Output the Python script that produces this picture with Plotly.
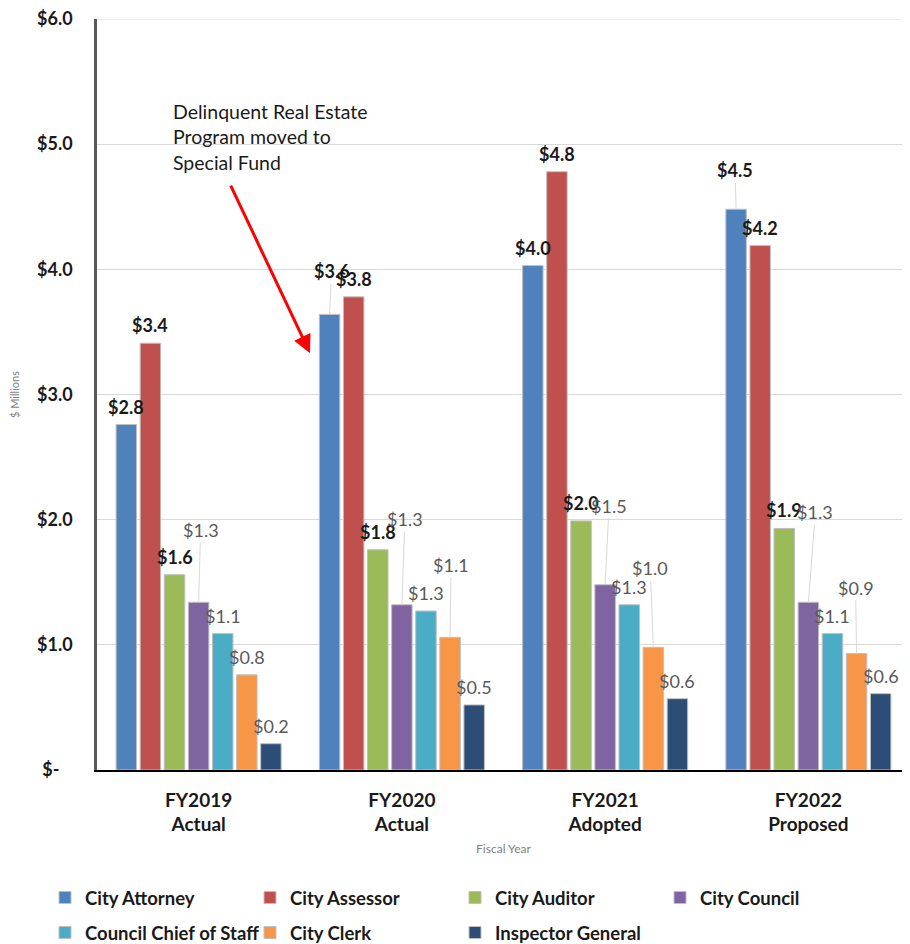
import plotly.graph_objects as go

# ---------------- data ----------------
years = ["FY2019<br>Actual", "FY2020<br>Actual", "FY2021<br>Adopted", "FY2022<br>Proposed"]
series_names = ["City Attorney", "City Assessor", "City Auditor", "City Council",
                "Council Chief of Staff", "City Clerk", "Inspector General"]
city_attorney = [2.76, 3.64, 4.03, 4.48]
city_assessor = [3.41, 3.78, 4.78, 4.19]
city_auditor = [1.56, 1.76, 1.99, 1.93]
city_council = [1.34, 1.32, 1.48, 1.34]
council_chief_of_staff = [1.09, 1.27, 1.32, 1.09]
city_clerk = [0.76, 1.06, 0.98, 0.93]
inspector_general = [0.21, 0.52, 0.57, 0.61]
y_tick_values = [0, 1, 2, 3, 4, 5, 6]
y_tick_labels = ["$-\u00a0\u00a0\u00a0", "$1.0", "$2.0", "$3.0", "$4.0", "$5.0", "$6.0"]

series_values = [city_attorney, city_assessor, city_auditor, city_council,
                 council_chief_of_staff, city_clerk, inspector_general]

# ---------------- style ----------------
colors = ["#4F81BD", "#C0504D", "#9BBB59", "#8064A2", "#4BACC6", "#F79646", "#2C4D75"]
label_bold = [True, True, True, False, False, False, False]
legend_row = ["legend", "legend", "legend", "legend", "legend2", "legend2", "legend2"]
FONT = "Lato, 'Liberation Sans', sans-serif"
BARGAP = 0.17
BARGROUPGAP = 0.15
# page body has an 8px margin, so the figure is 902x936 and positions are in figure pixels
FIG_W, FIG_H = 902, 936
PLOT_L, PLOT_T, PLOT_W, PLOT_H = 89, 11, 813, 751
# labels drawn with leader lines: (series index, year index) -> (dx, dy) pixel offset of label centre
leader_offsets = {
    (3, 0): (2, -72),
    (0, 1): (2, -43),
    (3, 1): (3, -86),
    (5, 1): (1, -72),
    (3, 2): (4, -79),
    (5, 2): (-3, -79),
    (0, 3): (-1, -39),
    (3, 3): (7, -90),
    (5, 3): (-1, -66),
}


def px_x(px):
    return (px - PLOT_L) / PLOT_W


def px_y(px):
    return (PLOT_T + PLOT_H - px) / PLOT_H


fig = go.Figure()
for name, vals, col, lg in zip(series_names, series_values, colors, legend_row):
    fig.add_trace(go.Bar(
        name=name, x=years, y=vals, legend=lg,
        marker=dict(color=col, line=dict(color="#BFBFBF", width=1)),
        hoverinfo="skip",
    ))

n = len(series_names)
slot = (1 - BARGAP) / n
annotations = []
for k, vals in enumerate(series_values):
    for i, v in enumerate(vals):
        xc = i - (1 - BARGAP) / 2 + slot * (k + 0.5)
        txt = f"${v:.1f}"
        if label_bold[k]:
            fnt = dict(family=FONT, size=18, color="#1a1a1a", weight="bold")
        else:
            fnt = dict(family=FONT, size=18, color="#595959")
        if (k, i) in leader_offsets:
            dx, dy = leader_offsets[(k, i)]
            annotations.append(dict(
                x=xc, y=v, xref="x", yref="y", text=txt, font=fnt,
                showarrow=True, arrowhead=0, arrowwidth=1, arrowcolor="#D9D9D9",
                ax=dx, ay=dy, standoff=0, startstandoff=0,
            ))
        else:
            annotations.append(dict(
                x=xc, y=v, xref="x", yref="y", text=txt, font=fnt,
                showarrow=False, yanchor="middle", yshift=18,
            ))

# callout text and red arrow
annotations.append(dict(
    xref="paper", yref="paper", x=px_x(163), y=px_y(90),
    xanchor="left", yanchor="top", align="left", showarrow=False,
    text="Delinquent Real Estate<br>Program moved to<br>Special Fund",
    font=dict(family=FONT, size=19.5, color="#1a1a1a"),
))
annotations.append(dict(
    x=0.548, y=3.33, xref="x", yref="y", text="", showarrow=True,
    arrowhead=2, arrowsize=1.2, arrowwidth=3, arrowcolor="#FF0000",
    ax=-80, ay=-169, standoff=0,
))

legend_font = dict(family=FONT, size=18.5, color="#1a1a1a", weight="bold")
legend_common = dict(
    orientation="h", x=px_x(37), xanchor="left", yanchor="middle",
    entrywidth=160, entrywidthmode="pixels", font=legend_font,
    itemwidth=30, traceorder="normal", bgcolor="rgba(0,0,0,0)",
)

fig.update_layout(
    width=FIG_W, height=FIG_H,
    margin=dict(l=PLOT_L, r=FIG_W - PLOT_L - PLOT_W, t=PLOT_T, b=FIG_H - PLOT_T - PLOT_H,
                autoexpand=False),
    paper_bgcolor="white", plot_bgcolor="white",
    barmode="group", bargap=BARGAP, bargroupgap=BARGROUPGAP,
    font=dict(family=FONT, color="#1a1a1a"),
    annotations=annotations,
    showlegend=True,
    legend=dict(legend_common, y=px_y(890)),
    legend2=dict(legend_common, y=px_y(925)),
    xaxis=dict(
        type="category", showgrid=False, showline=True, linecolor="#000000", linewidth=1.5,
        ticks="", tickfont=dict(family=FONT, size=19, color="#1a1a1a", weight="bold"),
        ticklabelstandoff=12, automargin=False,
        title=dict(text="Fiscal Year", font=dict(family=FONT, size=12, color="#7f7f7f"), standoff=10),
    ),
    yaxis=dict(
        range=[0, 6], tickvals=y_tick_values, ticktext=y_tick_labels,
        showgrid=True, gridcolor="#D9D9D9", gridwidth=1,
        showline=True, linecolor="#595959", linewidth=2.5,
        ticks="", ticklabelstandoff=18, zeroline=False, automargin=False,
        ticklabeloverflow="allow",
        tickfont=dict(family=FONT, size=18, color="#1a1a1a", weight="bold"),
        title=dict(text="$ Millions", font=dict(family=FONT, size=11, color="#7f7f7f"), standoff=26),
    ),
)
fig.add_shape(type="line", xref="paper", yref="y", x0=0, x1=1, y0=6, y1=6,
              line=dict(color="#D9D9D9", width=1), layer="below")

fig.write_html("out.html")
